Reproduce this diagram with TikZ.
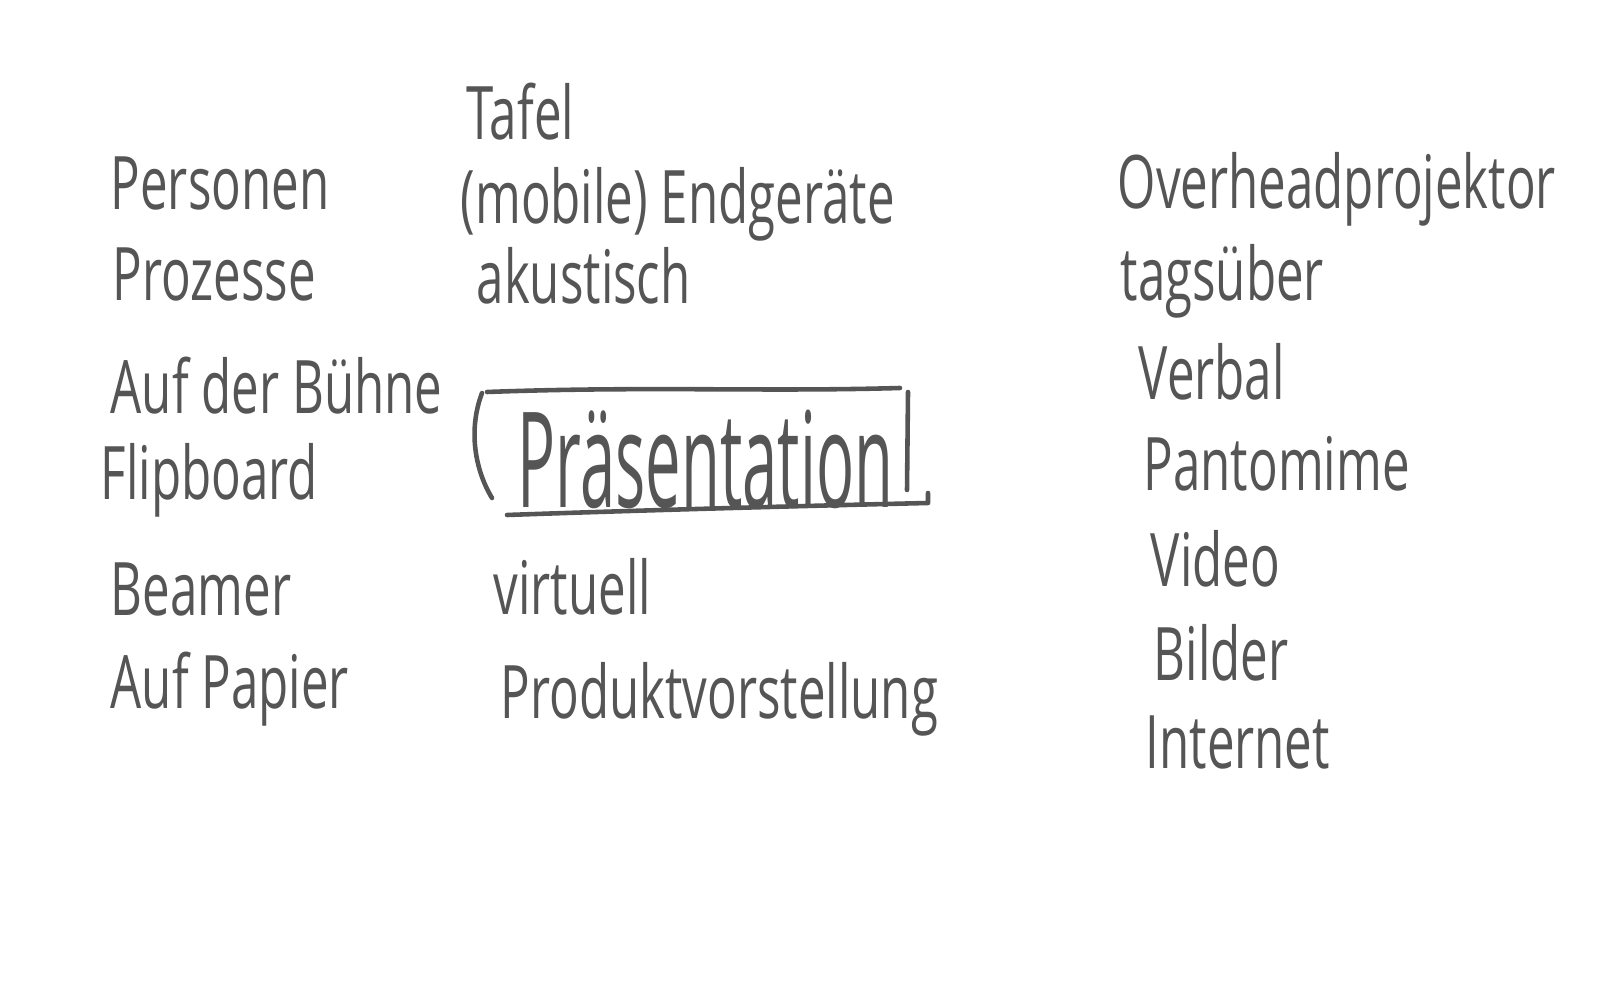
\documentclass[tikz,border=0pt]{standalone}
\usepackage{fontspec}
\setmainfont{Open Sans}
\usepackage{tikz}
\definecolor{inkgray}{HTML}{555555}

\begin{document}
\begin{tikzpicture}[x=0.01cm,y=-0.01cm,
  word/.style={anchor=west,inner sep=0pt,text=inkgray,font=\fontsize{14}{17}\selectfont,
    transform shape,yscale=1.5},
  big/.style={word,font=\fontsize{18}{21}\selectfont,yscale=1.4},
  ink/.style={draw=inkgray,line width=1.3pt,line cap=round,line join=round}]
  \useasboundingbox (0,0) rectangle (1600,986);
  % left column
  \node[word] (pers) at (110,184) {Personen};
  \node[word] (proz) at (112,275) {Prozesse};
  \node[word] (buehne) at (110,386) {Auf der Bühne};
  \node[word] (flip) at (100,480) {Flipboard};
  \node[word] (beam) at (110,590) {Beamer};
  \node[word] (papier) at (110,689) {Auf Papier};
  % middle column
  \node[word] (tafel) at (466,112) {Tafel};
  \node[word] (endg) at (460,204) {(mobile) Endgeräte};
  \node[word] (akust) at (476,276) {akustisch};
  \node[big] (praes) at (517,459) {Präsentation};
  \node[word] (virt) at (493,587) {virtuell};
  \node[word] (prod) at (500,699) {Produktvorstellung};
  % right column
  \node[word] (ohp) at (1117,189) {Overheadprojektor};
  \node[word] (tags) at (1120,281) {tagsüber};
  \node[word] (verb) at (1138,372) {Verbal};
  \node[word] (panto) at (1143,464) {Pantomime};
  \node[word] (vid) at (1150,559) {Video};
  \node[word] (bild) at (1153,653) {Bilder};
  \node[word] (inet) at (1145,743) {Internet};
  % sketchy frame round the centre word
  \draw[ink] (487,392) .. controls (650,386) and (760,392) .. (900,388);
  \draw[ink] (482,393) .. controls (468,430) and (475,470) .. (492,498);
  \draw[ink] (908,392) -- (907,490);
  \draw[ink] (507,515) .. controls (650,510) and (800,506) .. (928,503) -- (928,493);
\end{tikzpicture}
\end{document}
